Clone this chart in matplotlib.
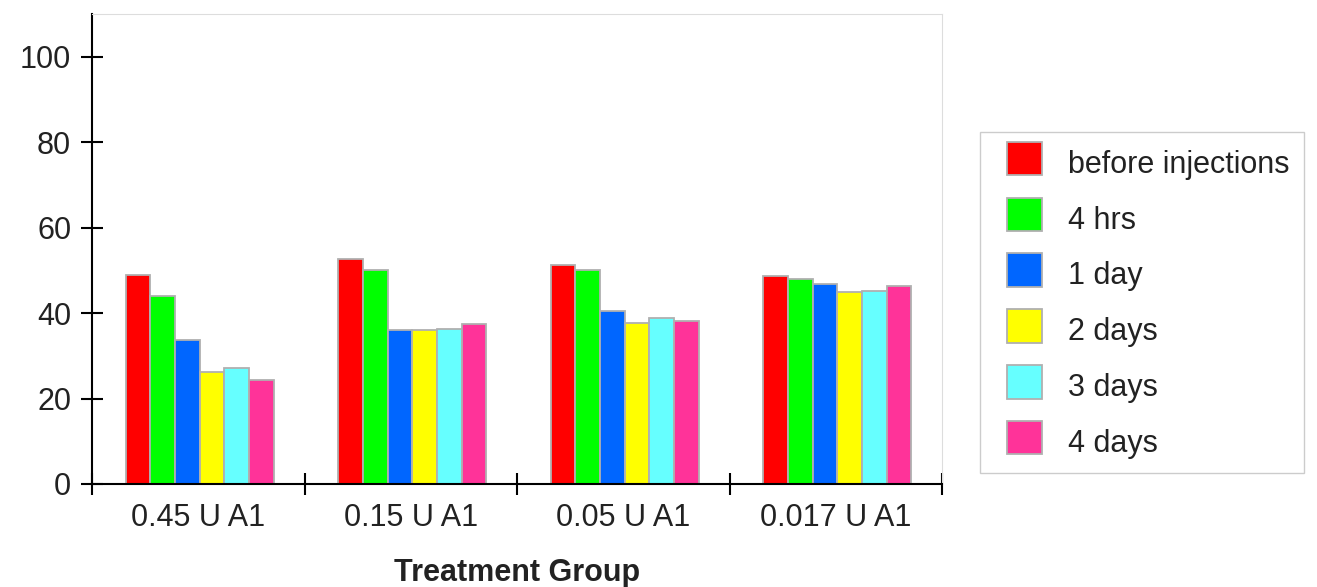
import matplotlib
matplotlib.use('Agg')
from matplotlib import pyplot as plt
from matplotlib.legend_handler import HandlerPatch, update_from_first_child
from matplotlib.container import BarContainer
from matplotlib.patches import Rectangle
import numpy as np

plt.rcParams['font.family'] = ['Liberation Sans', 'DejaVu Sans']

groups = ['0.45 U A1', '0.15 U A1', '0.05 U A1', '0.017 U A1']
series = ['before injections', '4 hrs', '1 day', '2 days', '3 days', '4 days']
colors = ['#ff0000', '#00ff00', '#0066ff', '#ffff00', '#66ffff', '#ff3399']

before_inj = [48.9, 52.6, 51.3, 48.7]
hrs_4 = [43.9, 50.1, 50.0, 47.9]
day_1 = [33.7, 36.1, 40.6, 46.8]
days_2 = [26.3, 36.1, 37.6, 45.0]
days_3 = [27.1, 36.2, 38.8, 45.1]
days_4 = [24.4, 37.5, 38.2, 46.4]
values = [before_inj, hrs_4, day_1, days_2, days_3, days_4]


def square_patch(legend, orig_handle, xdescent, ydescent, width, height, fontsize):
    # квадрат смещён вправо и чуть вверх, как в оригинале
    shift = 10
    return Rectangle((-xdescent + shift, -ydescent + 3), width - shift, height)


fig = plt.figure(figsize=(13.17, 5.87), dpi=100)
ax = fig.add_axes([0.0699, 0.1755, 0.6454, 0.8005])

x = np.arange(len(groups))
w = 0.116
for i, (vals, col, name) in enumerate(zip(values, colors, series)):
    ax.bar(x + (i - 2.5) * w + 0.007, vals, width=w, color=col,
           edgecolor='#b0b0b0', linewidth=1.3, label=name)

ax.set_xlim(-0.5, len(groups) - 0.5)
ax.set_ylim(0, 110)
ax.set_yticks([0, 20, 40, 60, 80, 100])
ax.set_xticks(np.arange(len(groups) + 1) - 0.5)
ax.set_xticklabels([])
ax.set_xticks(x, minor=True)
ax.set_xticklabels(groups, minor=True)
ax.tick_params(axis='x', which='minor', length=0, labelsize=22, pad=14, colors='#222222')
ax.tick_params(axis='x', which='major', direction='inout', length=16, width=1.5)
ax.tick_params(axis='y', direction='inout', length=16, width=1.5, labelsize=22, pad=7, labelcolor='#222222')

for s in ['top', 'right']:
    ax.spines[s].set_color('#dddddd')
for s in ['left', 'bottom']:
    ax.spines[s].set_linewidth(1.5)
    ax.spines[s].set_color('black')

ax.set_xlabel('Treatment Group', fontsize=22, fontweight='bold', labelpad=18, color='#222222')

handles, labels = ax.get_legend_handles_labels()
leg = fig.legend(handles, labels, loc='upper left', bbox_to_anchor=(0.744, 0.775), fontsize=22,
                 handlelength=1.6, handleheight=1.3, labelspacing=0.72,
                 handletextpad=0.85, borderpad=0.45, borderaxespad=0,
                 fancybox=False, edgecolor='#cccccc', framealpha=1,
                 handler_map={BarContainer: HandlerPatch(patch_func=square_patch,
                                                         update_func=update_from_first_child)})
for t in leg.get_texts():
    t.set_color('#222222')

fig.savefig('out.png', dpi=100)
